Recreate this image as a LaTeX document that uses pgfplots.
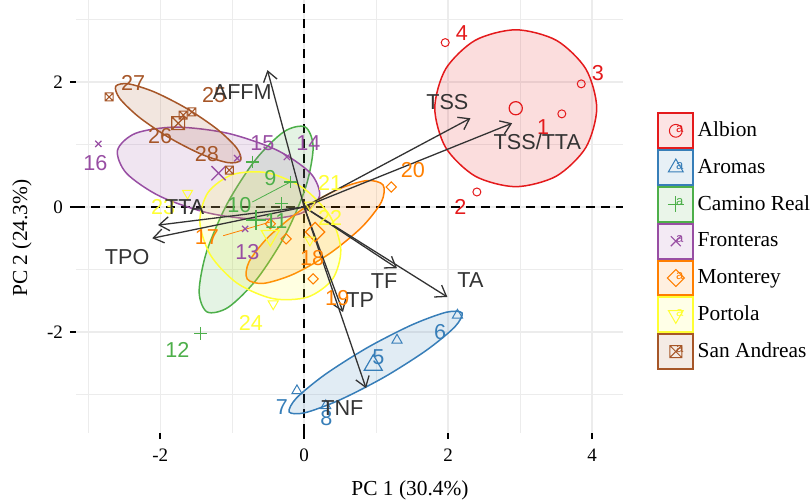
\documentclass[border=0pt]{standalone}
\usepackage{pgfplots}
\pgfplotsset{compat=1.18}
\usepackage{fontspec}
\setmainfont{Liberation Serif}
\newfontfamily\labfont{Liberation Sans}
\usetikzlibrary{arrows.meta}

\definecolor{cA}{HTML}{E41A1C}
\definecolor{cB}{HTML}{377EB8}
\definecolor{cC}{HTML}{4DAF4A}
\definecolor{cD}{HTML}{984EA3}
\definecolor{cE}{HTML}{FF7F00}
\definecolor{cF}{HTML}{FFFF33}
\definecolor{cG}{HTML}{A65628}
\definecolor{arr}{HTML}{333333}

\pgfdeclareplotmark{boxx}{%
  \pgfpathrectangle{\pgfqpoint{-\pgfplotmarksize}{-\pgfplotmarksize}}{\pgfqpoint{2\pgfplotmarksize}{2\pgfplotmarksize}}%
  \pgfpathmoveto{\pgfqpoint{-\pgfplotmarksize}{-\pgfplotmarksize}}%
  \pgfpathlineto{\pgfqpoint{\pgfplotmarksize}{\pgfplotmarksize}}%
  \pgfpathmoveto{\pgfqpoint{-\pgfplotmarksize}{\pgfplotmarksize}}%
  \pgfpathlineto{\pgfqpoint{\pgfplotmarksize}{-\pgfplotmarksize}}%
  \pgfusepathqstroke}

\pgfplotsset{
  grp/.style={color=#1, only marks},
  ell/.style={draw=#1, line width=0.75pt, fill=#1, fill opacity=0.15, smooth cycle, forget plot},
  leg/.style n args={2}{legend image code/.code={
      \draw[#1, line width=1pt, fill=#1!12] (0pt,-8.7pt) rectangle (17.4pt,8.7pt);
      \draw[#1, mark size=#2] plot coordinates {(8.7pt,0pt)};
      \node[text=#1, inner sep=0pt, font=\labfont\fontsize{6.5}{6.5}\selectfont] at (8.7pt,0.3pt) {a};
  }},
  lab/.style={only marks, mark=none, forget plot, nodes near coords, point meta=explicit symbolic,
     nodes near coords style={anchor=center, inner sep=0pt, text=#1, font=\labfont\fontsize{10.8}{12}\selectfont}},
  vec/.style={arr, line width=0.65pt, -{Straight Barb[length=5pt, width=7pt]}, forget plot},
}

\begin{document}
\begin{tikzpicture}
\begin{axis}[
  scale only axis, width=273.5pt, height=216.5pt,
  xmin=-3.17, xmax=4.43, ymin=-3.616, ymax=3.312,
  xtick={-2,0,2,4}, ytick={-2,0,2},
  minor xtick={-3,-1,1,3}, minor ytick={-3,-1,1,3},
  grid=both,
  major grid style={draw=gray!15, line width=0.7pt},
  minor grid style={draw=gray!15, line width=0.5pt},
  axis line style={draw=none},
  xtick pos=left, ytick pos=left,
  tick align=outside, major tick length=3pt, minor tick length=0pt,
  tick style={draw=black, line width=1pt},
  /pgf/number format/assume math mode=true,
  ticklabel style={font=\fontsize{9.5}{11}\selectfont},
  xticklabel style={yshift=-1.5pt},
  xlabel={PC 1 (30.4\%)}, ylabel={PC 2 (24.3\%)},
  label style={font=\fontsize{10.7}{12}\selectfont},
  xlabel style={at={(axis description cs:0.6106,-0.1316)}, anchor=center},
  ylabel style={at={(axis description cs:-0.0987,0.45)}, anchor=center},
  legend style={at={(axis description cs:1.0622,0.7413)}, anchor=north west, draw=none, fill=none,
     inner sep=0pt, row sep=0pt, column sep=0pt, font=\fontsize{10.7}{12}\selectfont,
     nodes={inner xsep=1.75pt, inner ysep=0pt}},
  legend cell align=left,
]
% zero lines
\addplot[black, line width=1.2pt, dash pattern=on 4.5pt off 3pt, forget plot] coordinates {(-3.17,0) (4.43,0)};
\addplot[black, line width=1.2pt, dash pattern=on 4.5pt off 3pt, forget plot] coordinates {(0,-3.616) (0,3.312)};

% ellipses
\addplot[ell=cA] coordinates {(4.065,1.58)(3.914,2.208)(3.503,2.667)(2.94,2.835)(2.377,2.667)(1.966,2.208)(1.815,1.58)(1.966,0.952)(2.377,0.493)(2.94,0.325)(3.503,0.493)(3.914,0.952)};
\addplot[ell=cB] coordinates {(2.194,-1.696)(2.092,-1.920)(1.695,-2.296)(1.110,-2.724)(0.493,-3.088)(0.011,-3.292)(-0.208,-3.280)(-0.106,-3.056)(0.291,-2.680)(0.876,-2.252)(1.493,-1.888)(1.975,-1.684)};
\addplot[ell=cC] coordinates {(0.014,1.28)(0.125,0.958)(0.024,0.326)(-0.262,-0.447)(-0.657,-1.154)(-1.054,-1.605)(-1.348,-1.68)(-1.459,-1.358)(-1.358,-0.726)(-1.072,0.047)(-0.677,0.754)(-0.280,1.205)};
\addplot[ell=cD] coordinates {(0.213,0.172)(-0.038,-0.099)(-0.598,-0.198)(-1.316,-0.100)(-2.001,0.170)(-2.468,0.539)(-2.593,0.908)(-2.342,1.179)(-1.782,1.278)(-1.064,1.180)(-0.379,0.910)(0.088,0.541)};
\addplot[ell=cE] coordinates {(1.097,0.352)(1.073,0.080)(0.803,-0.320)(0.358,-0.742)(-0.142,-1.072)(-0.562,-1.222)(-0.791,-1.152)(-0.767,-0.880)(-0.497,-0.480)(-0.052,-0.058)(0.448,0.272)(0.868,0.422)};
\addplot[ell=cF] coordinates {(0.395,-1.153)(0.050,-1.441)(-0.435,-1.466)(-0.929,-1.221)(-1.300,-0.773)(-1.449,-0.240)(-1.335,0.233)(-0.990,0.521)(-0.505,0.546)(-0.011,0.301)(0.360,-0.147)(0.509,-0.680)};
\addplot[ell=cG] coordinates {(-0.882,0.748)(-1.059,0.710)(-1.421,0.841)(-1.871,1.106)(-2.289,1.433)(-2.562,1.736)(-2.618,1.932)(-2.441,1.970)(-2.079,1.839)(-1.629,1.574)(-1.211,1.247)(-0.938,0.944)};

% label segments
\addplot[cC, line width=0.4pt, forget plot] coordinates {(-0.72,0.08) (-0.19,0.40)};
\addplot[cE, line width=0.4pt, forget plot] coordinates {(-1.125,-0.46) (-0.47,-0.24)};

% points
\addplot[grp=cA, mark=o, mark size=2pt, mark options={line width=0.5pt}, leg={cA}{3.2pt}] coordinates {(3.58,1.49)(2.40,0.24)(3.85,1.97)(1.96,2.63)};
\addlegendentry{Albion}
\addplot[grp=cA, mark=o, mark size=3.3pt, mark options={line width=0.6pt}, forget plot] coordinates {(2.94,1.58)};

\addplot[grp=cB, mark=triangle, mark size=2.9pt, mark options={line width=0.5pt}, leg={cB}{4.3pt}] coordinates {(1.29,-2.13)(2.13,-1.73)(-0.10,-2.94)(0.30,-3.18)};
\addlegendentry{Aromas}
\addplot[grp=cB, mark=triangle, mark size=5.2pt, mark options={line width=0.6pt}, forget plot] coordinates {(0.96,-2.53)};

\addplot[grp=cC, mark=+, mark size=3.2pt, mark options={line width=0.6pt}, leg={cC}{4pt}] coordinates {(-0.19,0.40)(-0.72,0.72)(-0.31,0.05)(-1.44,-2.02)};
\addlegendentry{Camino Real}
\addplot[grp=cC, mark=+, mark size=5pt, mark options={line width=0.7pt}, forget plot] coordinates {(-0.67,-0.21)};

\addplot[grp=cD, mark=x, mark size=2.2pt, mark options={line width=0.6pt}, leg={cD}{3.5pt}] coordinates {(-0.82,-0.35)(-0.24,0.80)(-0.93,0.78)(-2.86,1.01)};
\addlegendentry{Fronteras}
\addplot[grp=cD, mark=x, mark size=5pt, mark options={line width=0.7pt}, forget plot] coordinates {(-1.19,0.54)};

\addplot[grp=cE, mark=square, mark size=1.8pt, mark options={line width=0.5pt, rotate=45}, leg={cE}{3pt}] coordinates {(-0.47,-0.27)(-0.25,-0.51)(0.125,-1.15)(1.21,0.32)};
\addlegendentry{Monterey}
\addplot[grp=cE, mark=square, mark size=3.4pt, mark options={line width=0.6pt, rotate=45}, forget plot] coordinates {(0.153,-0.40)};

\addplot[grp=cF, mark=triangle, mark size=2.9pt, mark options={line width=0.5pt, rotate=180}, leg={cF}{4.3pt}] coordinates {(0.08,0.03)(0.08,-0.53)(-1.62,0.22)(-0.43,-1.55)};
\addlegendentry{Portola}
\addplot[grp=cF, mark=triangle, mark size=5.2pt, mark options={line width=0.6pt, rotate=180}, forget plot] coordinates {(-0.47,-0.46)};

\addplot[grp=cG, mark=boxx, mark size=2pt, mark options={line width=0.5pt}, leg={cG}{3pt}] coordinates {(-1.56,1.52)(-1.68,1.47)(-2.71,1.76)(-1.04,0.59)};
\addlegendentry{San Andreas}
\addplot[grp=cG, mark=boxx, mark size=3.2pt, mark options={line width=0.6pt}, forget plot] coordinates {(-1.75,1.34)};

% point labels
\addplot[lab=cA] coordinates {(3.32,1.28)[1] (2.17,0.0)[2] (4.08,2.14)[3] (2.19,2.78)[4]};
\addplot[lab=cB] coordinates {(1.03,-2.40)[5] (1.89,-2.0)[6] (-0.31,-3.2)[7] (0.31,-3.38)[8]};
\addplot[lab=cC] coordinates {(-0.47,0.46)[9] (-0.90,0.03)[10] (-0.39,-0.22)[11] (-1.76,-2.29)[12]};
\addplot[lab=cD] coordinates {(-0.79,-0.72)[13] (0.06,1.02)[14] (-0.58,1.02)[15] (-2.90,0.70)[16]};
\addplot[lab=cE] coordinates {(-1.35,-0.48)[17] (0.11,-0.81)[18] (0.46,-1.46)[19] (1.51,0.59)[20]};
\addplot[lab=cF] coordinates {(0.36,0.38)[21] (0.36,-0.18)[22] (-1.96,0.0)[23] (-0.74,-1.85)[24]};
\addplot[lab=cG] coordinates {(-1.25,1.79)[25] (-2.0,1.14)[26] (-2.375,1.98)[27] (-1.35,0.85)[28]};

% variable arrows
\addplot[vec] coordinates {(0,0) (2.31,1.42)};
\addplot[vec] coordinates {(0,0) (2.89,1.34)};
\addplot[vec] coordinates {(0,0) (-0.51,2.19)};
\addplot[vec] coordinates {(0,0) (-2.03,-0.29)};
\addplot[vec] coordinates {(0,0) (-2.11,-0.50)};
\addplot[vec] coordinates {(0,0) (1.29,-0.98)};
\addplot[vec] coordinates {(0,0) (1.99,-1.44)};
\addplot[vec] coordinates {(0,0) (0.54,-1.68)};
\addplot[vec] coordinates {(0,0) (0.86,-2.90)};
\addplot[lab=arr] coordinates {(1.99,1.68)[TSS] (3.24,1.04)[TSS/TTA] (-0.86,1.84)[AFFM] (-1.66,0.0)[TTA] (-2.46,-0.80)[TPO] (1.11,-1.18)[TF] (2.31,-1.17)[TA] (0.78,-1.49)[TP] (0.53,-3.22)[TNF]};
\end{axis}
\pgfresetboundingbox
\path[use as bounding box] (-38pt,-34pt) rectangle (367.5pt,216.5pt);
\end{tikzpicture}
\end{document}
